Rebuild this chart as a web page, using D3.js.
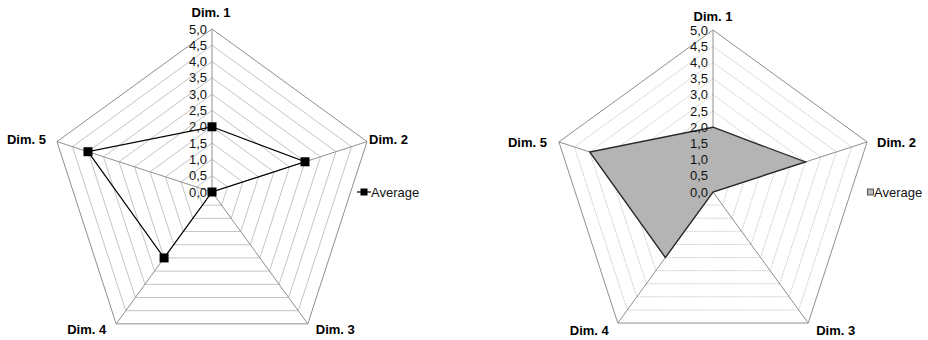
<!DOCTYPE html>
<html>
<head>
<meta charset="utf-8">
<script src="https://cdn.jsdelivr.net/npm/d3@7"></script>
<style>
  html, body { margin: 0; padding: 0; background: #fff; }
  svg { display: block; }
  text { font-family: "Liberation Sans", Arial, sans-serif; }
</style>
</head>
<body>
<svg id="chart" width="928" height="340"></svg>
<script>
// Five dimensions, one series ("Average"), scale 0..5 in steps of 0.5
const dimensions = ["Dim. 1", "Dim. 2", "Dim. 3", "Dim. 4", "Dim. 5"];
const averageValues = [2.0, 3.0, 0.0, 2.5, 4.0];
const tickValues = [0, 0.5, 1, 1.5, 2, 2.5, 3, 3.5, 4, 4.5, 5];
const tickLabels = ["0,0", "0,5", "1,0", "1,5", "2,0", "2,5", "3,0", "3,5", "4,0", "4,5", "5,0"];
const seriesName = "Average";

const svg = d3.select("#chart");

// Two panels: a line radar with markers and a filled radar
const panels = [
  {
    cx: 212, cy: 192, radius: 163, type: "line",
    ringColor: "#c4c4c4", ringDash: null,
    // label anchors relative to each axis end: [dx, dy, anchor]
    labelPos: [[-1, -17, "middle"], [2, -2, "start"], [8, 6, "start"], [-10, 6, "end"], [-11, -2, "end"]],
    legendX: 357
  },
  {
    cx: 713, cy: 192, radius: 162, type: "area",
    ringColor: "#c8c8c8", ringDash: "1.5,1",
    labelPos: [[0, -14, "middle"], [10, 0, "start"], [8, 7, "start"], [-9, 7, "end"], [-12, 0, "end"]],
    legendX: 867
  }
];

const angle = i => -Math.PI / 2 + i * 2 * Math.PI / dimensions.length;

panels.forEach(p => {
  const r = d3.scaleLinear().domain([0, 5]).range([0, p.radius]);
  const g = svg.append("g").attr("transform", `translate(${p.cx},${p.cy})`);
  const pt = (i, v) => [r(v) * Math.cos(angle(i)), r(v) * Math.sin(angle(i))];
  const ring = v => d3.range(dimensions.length).map(i => pt(i, v));
  const closed = d3.line().curve(d3.curveLinearClosed);

  // concentric gridline pentagons
  g.selectAll("path.ring")
    .data(tickValues.filter(v => v > 0 && v < 5))
    .join("path")
    .attr("class", "ring")
    .attr("d", v => closed(ring(v)))
    .attr("fill", "none")
    .attr("stroke", p.ringColor)
    .attr("stroke-width", 1)
    .attr("stroke-dasharray", p.ringDash);

  // outer pentagon
  g.append("path")
    .attr("d", closed(ring(5)))
    .attr("fill", "none")
    .attr("stroke", "#8f8f8f")
    .attr("stroke-width", 1);

  // spokes
  g.selectAll("line.spoke")
    .data(dimensions)
    .join("line")
    .attr("class", "spoke")
    .attr("x1", 0).attr("y1", 0)
    .attr("x2", (d, i) => pt(i, 5)[0])
    .attr("y2", (d, i) => pt(i, 5)[1])
    .attr("stroke", "#8f8f8f")
    .attr("stroke-width", 1);

  // series
  const pts = averageValues.map((v, i) => pt(i, v));
  if (p.type === "line") {
    g.append("path")
      .attr("d", closed(pts))
      .attr("fill", "none")
      .attr("stroke", "#000")
      .attr("stroke-width", 1.2);
    g.selectAll("rect.marker")
      .data(pts)
      .join("rect")
      .attr("class", "marker")
      .attr("x", d => d[0] - 4.5)
      .attr("y", d => d[1] - 4.5)
      .attr("width", 9).attr("height", 9)
      .attr("fill", "#000");
  } else {
    g.append("path")
      .attr("d", closed(pts))
      .attr("fill", "#b4b4b4")
      .attr("stroke", "#2a2a2a")
      .attr("stroke-width", 1.4);
  }

  // value axis labels along Dim. 1
  g.selectAll("text.tick")
    .data(tickValues)
    .join("text")
    .attr("class", "tick")
    .attr("x", -5)
    .attr("y", v => -r(v))
    .attr("dy", "0.35em")
    .attr("text-anchor", "end")
    .attr("font-size", 13)
    .attr("fill", "#111")
    .text((v, i) => tickLabels[i]);

  // dimension labels
  g.selectAll("text.dim")
    .data(dimensions)
    .join("text")
    .attr("class", "dim")
    .attr("x", (d, i) => pt(i, 5)[0] + p.labelPos[i][0])
    .attr("y", (d, i) => pt(i, 5)[1] + p.labelPos[i][1])
    .attr("dy", "0.35em")
    .attr("text-anchor", (d, i) => p.labelPos[i][2])
    .attr("font-size", 13)
    .attr("font-weight", "bold")
    .attr("fill", "#000")
    .text(d => d);

  // legend
  const lg = svg.append("g").attr("transform", `translate(${p.legendX},${p.cy})`);
  if (p.type === "line") {
    lg.append("line").attr("x1", 0).attr("x2", 14).attr("y1", 0).attr("y2", 0)
      .attr("stroke", "#000").attr("stroke-width", 1.2);
    lg.append("rect").attr("x", 3.5).attr("y", -3.5).attr("width", 7).attr("height", 7).attr("fill", "#000");
    lg.append("text").attr("x", 14).attr("y", 0).attr("dy", "0.35em")
      .attr("font-size", 13).attr("fill", "#111").text(seriesName);
  } else {
    lg.append("rect").attr("x", 0.5).attr("y", -3).attr("width", 6).attr("height", 6)
      .attr("fill", "#b4b4b4").attr("stroke", "#333").attr("stroke-width", 0.8);
    lg.append("text").attr("x", 7).attr("y", 0).attr("dy", "0.35em")
      .attr("font-size", 13).attr("fill", "#111").text(seriesName);
  }
});
</script>
</body>
</html>
